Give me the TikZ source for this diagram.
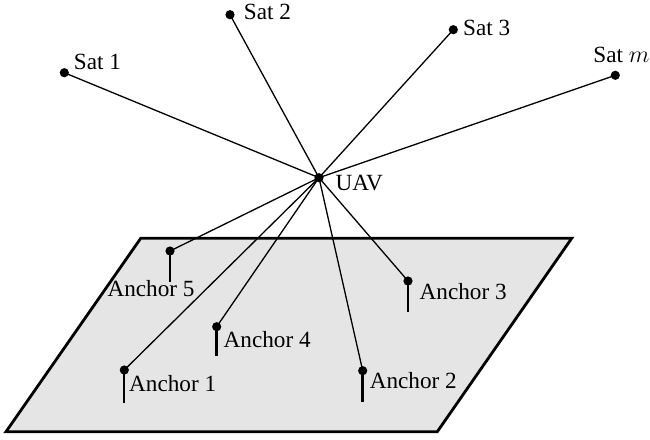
\documentclass[tikz,border=0pt]{standalone}
\usepackage{fontspec}
\setmainfont{Liberation Serif}
\newfontfamily\labelfont{Liberation Serif}
\begin{document}
\begin{tikzpicture}[x=0.5pt,y=-0.5pt,
  every node/.style={font=\labelfont\fontsize{11.6}{14}\selectfont, inner sep=0pt},
  dot/.style={circle, fill=black, minimum size=4.6pt},
  link/.style={line width=0.65pt},
  stem/.style={line width=1.2pt},
  ground/.style={line width=1.4pt, fill=black!10, line join=miter}]
\useasboundingbox (0,0) rectangle (650,440);

% ground plane
\draw[ground] (140.7,238.3) -- (571.7,238.3) -- (437.3,431.7) -- (6,431.7) -- cycle;

% UAV and satellites
\coordinate (uav) at (319,177.7);
\coordinate (s1) at (64.3,72.7);
\coordinate (s2) at (230,14.7);
\coordinate (s3) at (453.3,29.7);
\coordinate (sm) at (615.3,75.3);

% anchors (dot positions) and stem ends
\coordinate (a1) at (124.3,370);   \coordinate (a1b) at (124.3,402.7);
\coordinate (a2) at (362.7,370.7); \coordinate (a2b) at (362.7,401.7);
\coordinate (a3) at (408,281);     \coordinate (a3b) at (408,312.3);
\coordinate (a4) at (216.7,326.7); \coordinate (a4b) at (216.7,356);
\coordinate (a5) at (170,251);     \coordinate (a5b) at (170,281.7);

% links from the UAV
\foreach \t in {s1,s2,s3,sm,a1,a2,a3,a4,a5}
  \draw[link] (uav) -- (\t);

% anchor stems
\foreach \t in {a1,a2,a3,a4,a5}
  \draw[stem] (\t) -- (\t b);

% dots
\foreach \t in {uav,s1,s2,s3,sm,a1,a2,a3,a4,a5}
  \node[dot] (\t dot) at (\t) {};

% labels
\node (luav) at (359.3,183) {UAV};
\node (ls1) at (97.5,62) {Sat 1};
\node (ls2) at (267.5,12.3) {Sat 2};
\node (ls3) at (486.7,28) {Sat 3};
\node (lsm) at (621.5,55) {Sat $m$};
\node (la1) at (172.7,384) {Anchor 1};
\node (la2) at (413.3,381) {Anchor 2};
\node (la3) at (463.2,291.7) {Anchor 3};
\node (la4) at (267.2,340) {Anchor 4};
\node (la5) at (151,289) {Anchor 5};
\end{tikzpicture}
\end{document}
